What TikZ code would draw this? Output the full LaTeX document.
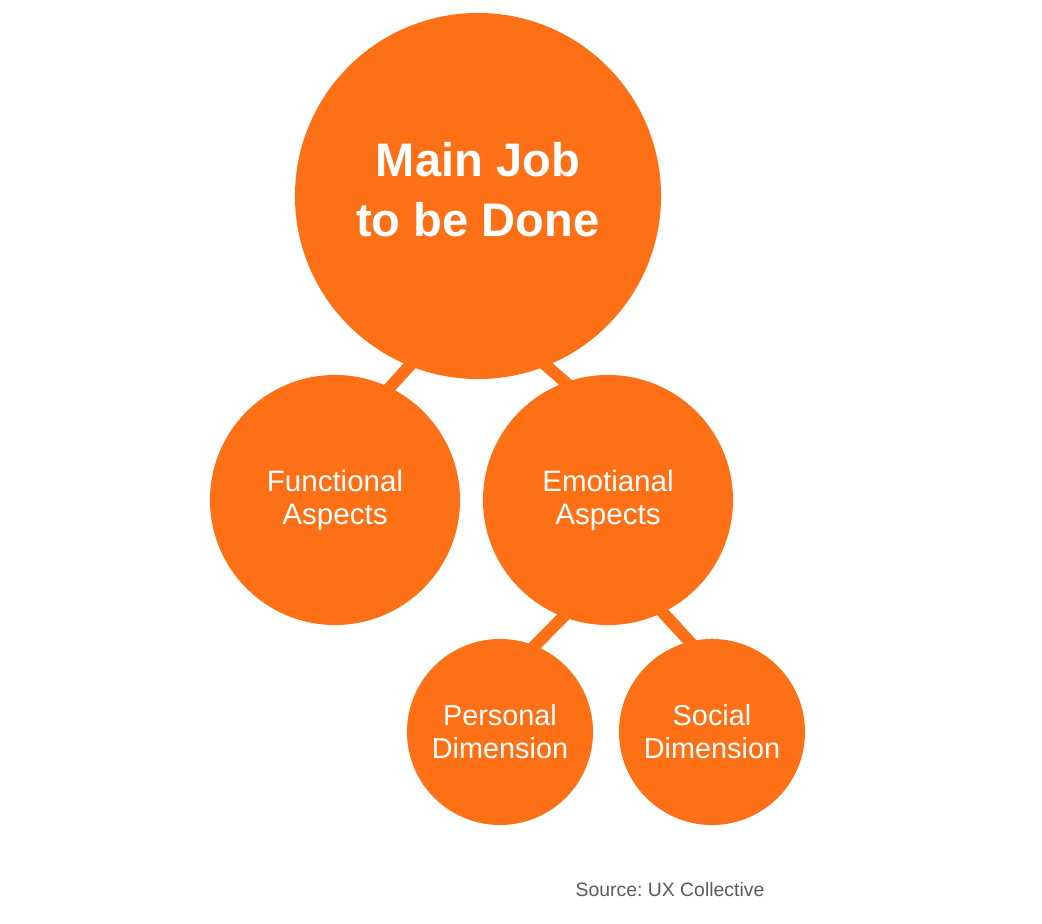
\documentclass[tikz,border=0pt]{standalone}
\usepackage{fontspec}
\setmainfont{Liberation Sans}
\frenchspacing
\definecolor{jobOrange}{RGB}{253,112,22}
\definecolor{srcGray}{RGB}{90,90,90}
\tikzset{
  job/.style={circle,fill=jobOrange,text=white,align=center,inner sep=0pt},
  link/.style={jobOrange,line width=8.5pt,shorten <=-4pt,shorten >=-4pt}
}

\begin{document}
\begin{tikzpicture}[x=0.025cm,y=-0.025cm]
  \useasboundingbox (0,0) rectangle (1042,924);
  % 圆
  \node[job,minimum size=9.15cm,text depth=0.35cm,font=\bfseries\fontsize{33.5}{42.6}\selectfont] (a) at (478,196) {Main Job\\to be Done};
  \node[job,minimum size=6.25cm,font=\fontsize{21}{23.4}\selectfont] (b) at (335,500) {Functional\\Aspects};
  \node[job,minimum size=6.25cm,font=\fontsize{21}{23.4}\selectfont] (c) at (608,500) {Emotianal\\Aspects};
  \node[job,minimum size=4.65cm,font=\fontsize{20.5}{23.4}\selectfont] (d) at (500,732) {Personal\\Dimension};
  \node[job,minimum size=4.65cm,font=\fontsize{20.5}{23.4}\selectfont] (e) at (712,732) {Social\\Dimension};

  % 连线
  \draw[link] (a.248) -- (b.64.5);
  \draw[link] (a.292) -- (c.110);
  \draw[link] (c.249) -- (d.68.5);
  \draw[link] (c.296) -- (e.104.6);

  % 来源
  \node[text=srcGray,font=\fontsize{13.8}{16}\selectfont,anchor=base] (src) at (670,897) {Source: UX Collective};
\end{tikzpicture}
\end{document}
